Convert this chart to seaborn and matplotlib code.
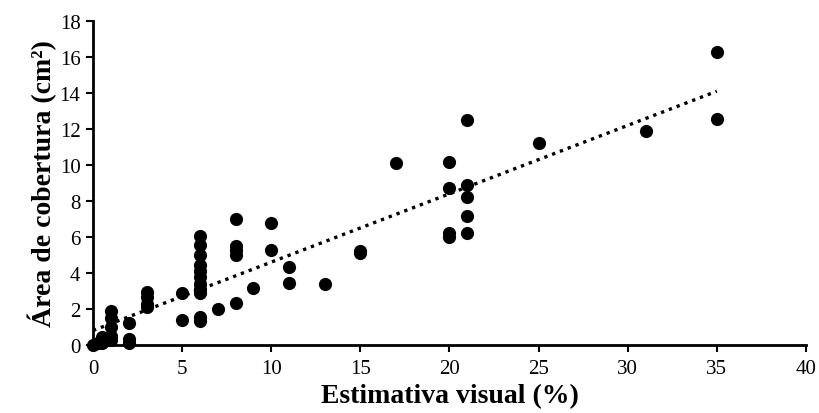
import numpy as np
import pandas as pd
import matplotlib
matplotlib.use("Agg")
import matplotlib.pyplot as plt
import seaborn as sns

visual = [0, 0.3, 0.5, 0.5, 0.5, 1, 1, 1, 1, 1, 2, 2, 2,
          3, 3, 3, 3, 5, 5,
          6, 6, 6, 6, 6, 6, 6, 6, 6, 6, 6,
          7, 8, 8, 8, 8, 8, 9, 10, 10, 11, 11, 13, 15, 15,
          17, 20, 20, 20, 20, 21, 21, 21, 21, 21, 25, 31, 35, 35]
area = [0, 0.1, 0.1, 0.3, 0.45, 1.9, 1.5, 1.0, 0.5, 0.3, 1.2, 0.35, 0.1,
        2.95, 2.65, 2.3, 2.1, 2.9, 1.4,
        6.05, 5.55, 5.0, 4.45, 4.1, 3.8, 3.4, 3.1, 2.9, 1.55, 1.35,
        2.0, 7.0, 5.5, 5.3, 5.0, 2.35, 3.15, 6.8, 5.3, 4.35, 3.45, 3.4, 5.2, 5.1,
        10.1, 10.15, 8.7, 6.2, 6.0, 12.5, 8.9, 8.2, 7.15, 6.2, 11.25, 11.9, 16.3, 12.55]

xticks = [0, 5, 10, 15, 20, 25, 30, 35, 40]
yticks = [0, 2, 4, 6, 8, 10, 12, 14, 16, 18]

df = pd.DataFrame({"visual": visual, "area": area})

sns.set_theme(style="ticks")
plt.rcParams['font.family'] = ['Liberation Serif', 'DejaVu Serif']

fig = plt.figure(figsize=(8.19, 4.14), dpi=100)
ax = fig.add_axes([0.1136, 0.164, 0.8704, 0.783])

sns.scatterplot(data=df, x="visual", y="area", ax=ax, color="black",
                s=90, edgecolor="black", linewidth=0, zorder=3, clip_on=False)

coef = np.polyfit(df["visual"], df["area"], 1)
xs = np.array([min(visual), max(visual)])
ax.plot(xs, np.polyval(coef, xs), linestyle=(0, (1, 1.5)), color="black",
        linewidth=2.4, zorder=2)

ax.set_xlim(0, 40)
ax.set_ylim(0, 18)
ax.set_xticks(xticks)
ax.set_yticks(yticks)
ax.tick_params(axis="both", labelsize=15, colors="black", width=1.5,
               length=5, direction="out")
ax.tick_params(axis="x", pad=5)
ax.tick_params(axis="y", pad=4)
for sp in ["top", "right"]:
    ax.spines[sp].set_visible(False)
for sp in ["left", "bottom"]:
    ax.spines[sp].set_linewidth(2)
    ax.spines[sp].set_color("black")

ax.set_xlabel("Estimativa visual (%)", fontsize=20, fontweight="bold",
              labelpad=4, color="black")
ax.set_ylabel("Área de cobertura (cm²)", fontsize=20, fontweight="bold",
              labelpad=2, color="black")

fig.savefig("out.png", dpi=100, facecolor="white")
